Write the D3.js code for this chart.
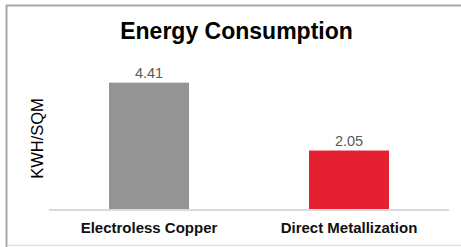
<!DOCTYPE html>
<html>
<head>
<meta charset="utf-8">
<script src="https://cdn.jsdelivr.net/npm/d3@7"></script>
<style>
  html, body { margin: 0; padding: 0; background: #fff; }
  svg { display: block; }
</style>
</head>
<body>
<svg id="chart" width="461" height="247"></svg>
<script>
const categories = ["Electroless Copper", "Direct Metallization"];
const values = [4.41, 2.05];
const barColors = ["#949494", "#e42032"];
const title = "Energy Consumption";
const yLabel = "KWH/SQM";

const svg = d3.select("#chart");
const W = 461, H = 247;

// frame
svg.append("line").attr("x1", 6.5).attr("x2", 6.5).attr("y1", 5).attr("y2", 247)
  .attr("stroke", "#a8a8a8").attr("stroke-width", 2);
svg.append("line").attr("x1", 6).attr("x2", W).attr("y1", 5.5).attr("y2", 5.5)
  .attr("stroke", "#a8a8a8").attr("stroke-width", 2);
svg.append("line").attr("x1", 7).attr("x2", W).attr("y1", 245.5).attr("y2", 245.5)
  .attr("stroke", "#dedede").attr("stroke-width", 1.5);

const plot = { left: 49, right: 449, top: 65.7, bottom: 209.5 };

const x = d3.scaleBand().domain(categories).range([plot.left, plot.right]).paddingInner(0.6).paddingOuter(0.3);
const y = d3.scaleLinear().domain([0, 5]).range([plot.bottom, plot.top]);

// bars
svg.selectAll("rect.bar").data(categories).join("rect")
  .attr("class", "bar")
  .attr("x", d => x(d))
  .attr("width", x.bandwidth())
  .attr("y", (d, i) => y(values[i]))
  .attr("height", (d, i) => y(0) - y(values[i]))
  .attr("fill", (d, i) => barColors[i]);

// axis baseline
svg.append("line").attr("x1", plot.left).attr("x2", plot.right)
  .attr("y1", y(0) + 0.5).attr("y2", y(0) + 0.5)
  .attr("stroke", "#dadada").attr("stroke-width", 2);

// category labels
const xAxis = d3.axisBottom(x).tickSize(0).tickPadding(0);
const gx = svg.append("g").attr("transform", `translate(0,${y(0)})`).call(xAxis);
gx.select(".domain").remove();
gx.selectAll("text")
  .attr("y", 23.8).attr("dy", null)
  .attr("font-family", "Liberation Sans, Arial, sans-serif")
  .attr("font-size", 15).attr("font-weight", "bold").attr("fill", "#111");

// value labels
svg.selectAll("text.val").data(categories).join("text")
  .attr("class", "val")
  .attr("x", d => x(d) + x.bandwidth() / 2)
  .attr("y", (d, i) => y(values[i]) - 5)
  .attr("text-anchor", "middle")
  .attr("font-family", "Liberation Sans, Arial, sans-serif")
  .attr("font-size", 14.5).attr("fill", "#595959")
  .text((d, i) => values[i].toFixed(2));

// title
svg.append("text").attr("x", 236.5).attr("y", 39.3).attr("text-anchor", "middle")
  .attr("font-family", "Liberation Sans, Arial, sans-serif")
  .attr("font-size", 23).attr("font-weight", "bold").attr("fill", "#000")
  .text(title);

// y label
svg.append("text").attr("transform", "translate(43.3,138.5) rotate(-90)")
  .attr("text-anchor", "middle")
  .attr("font-family", "Liberation Sans, Arial, sans-serif")
  .attr("font-size", 16.5).attr("fill", "#000")
  .text(yLabel);
</script>
</body>
</html>
